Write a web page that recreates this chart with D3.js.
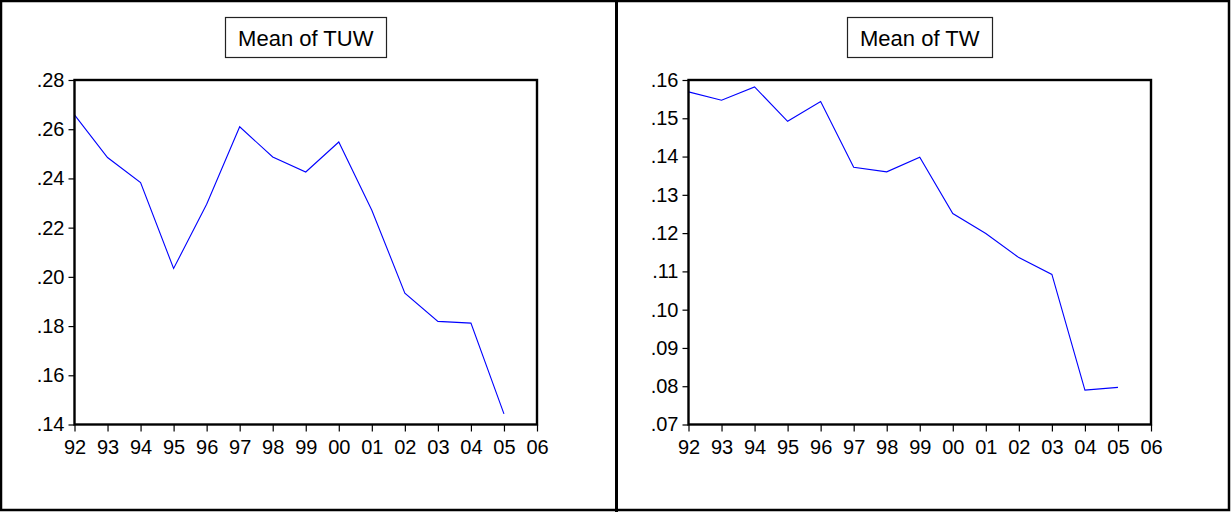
<!DOCTYPE html>
<html>
<head>
<meta charset="utf-8">
<script src="https://cdn.jsdelivr.net/npm/d3@7"></script>
<style>
  html, body { margin: 0; padding: 0; background: #fff; }
  svg { display: block; }
  text { font-family: Arial, "Liberation Sans", sans-serif; fill: #000; }
</style>
</head>
<body>
<svg id="chart" width="1231" height="512"></svg>
<script>
// Years covered by the series (x positions) and the axis tick years
const years = [1992, 1993, 1994, 1995, 1996, 1997, 1998, 1999, 2000, 2001, 2002, 2003, 2004, 2005];
const xTickYears = [1992, 1993, 1994, 1995, 1996, 1997, 1998, 1999, 2000, 2001, 2002, 2003, 2004, 2005, 2006];

// Mean of TUW by year
const tuwValues = [0.2658, 0.2485, 0.2383, 0.2034, 0.2295, 0.2610, 0.2487, 0.2426, 0.2548, 0.2271, 0.1934, 0.1819, 0.1812, 0.1443];
// Mean of TW by year
const twValues = [0.1569, 0.1547, 0.1582, 0.1492, 0.1544, 0.1372, 0.1360, 0.1398, 0.1251, 0.1199, 0.1136, 0.1092, 0.0790, 0.0797];

// Y tick values for each panel
const tuwTicks = [0.14, 0.16, 0.18, 0.20, 0.22, 0.24, 0.26, 0.28];
const twTicks = [0.07, 0.08, 0.09, 0.10, 0.11, 0.12, 0.13, 0.14, 0.15, 0.16];

const svg = d3.select("#chart");

// Outer border and the divider between the two panels
svg.append("rect")
  .attr("x", 1).attr("y", 1).attr("width", 1228).attr("height", 509)
  .attr("fill", "none").attr("stroke", "#000").attr("stroke-width", 2.5);
svg.append("line")
  .attr("x1", 616.5).attr("x2", 616.5).attr("y1", 0).attr("y2", 512)
  .attr("stroke", "#000").attr("stroke-width", 3);

const yearLabel = d => String(d % 100).padStart(2, "0");
const decLabel = d => d3.format(".2f")(d).replace(/^0/, "");
const FONT = "Arial, 'Liberation Sans', sans-serif";

function panel(opts) {
  const { left, right, top, bottom, title, values, yTicks } = opts;
  const g = svg.append("g");

  const x = d3.scaleLinear().domain([1992, 2006]).range([left, right]);
  const y = d3.scaleLinear().domain([yTicks[0], yTicks[yTicks.length - 1]]).range([bottom, top]);

  // Y axis
  const ya = g.append("g")
    .attr("transform", `translate(${left},0)`)
    .call(d3.axisLeft(y).tickValues(yTicks).tickFormat(decLabel).tickSize(6).tickPadding(4));
  ya.select(".domain").remove();
  ya.selectAll("line").attr("stroke", "#000").attr("stroke-width", 1.2);
  ya.selectAll("text").attr("font-size", 20).attr("font-family", FONT);

  // X axis
  const xa = g.append("g")
    .attr("transform", `translate(0,${bottom})`)
    .call(d3.axisBottom(x).tickValues(xTickYears).tickFormat(yearLabel).tickSize(7).tickPadding(8));
  xa.select(".domain").remove();
  xa.selectAll("line").attr("stroke", "#000").attr("stroke-width", 1.2);
  xa.selectAll("text").attr("font-size", 20).attr("font-family", FONT);

  // Series line
  const line = d3.line().x((d, i) => x(years[i])).y(d => y(d));
  g.append("path")
    .datum(values)
    .attr("d", line)
    .attr("fill", "none")
    .attr("stroke", "#0000ff")
    .attr("stroke-width", 1.1);

  // Plot frame
  g.append("rect")
    .attr("x", left).attr("y", top)
    .attr("width", right - left).attr("height", bottom - top)
    .attr("fill", "none").attr("stroke", "#000").attr("stroke-width", 2.4);

  // Boxed title centred over the plot area
  const cx = (left + right) / 2;
  const box = g.append("rect");
  const t = g.append("text")
    .attr("x", cx).attr("y", 46)
    .attr("text-anchor", "middle")
    .attr("font-size", 22)
    .attr("font-family", FONT)
    .text(title);
  const w = t.node().getComputedTextLength() + 26;
  box
    .attr("x", Math.round(cx - w / 2) + 0.5).attr("y", 17.5)
    .attr("width", Math.round(w)).attr("height", 40)
    .attr("fill", "#fff").attr("stroke", "#222").attr("stroke-width", 1.2);
}

panel({ left: 74.5, right: 537, top: 80, bottom: 424.5, title: "Mean of TUW", values: tuwValues, yTicks: tuwTicks });
panel({ left: 688.5, right: 1151, top: 80, bottom: 424.5, title: "Mean of TW", values: twValues, yTicks: twTicks });
</script>
</body>
</html>
